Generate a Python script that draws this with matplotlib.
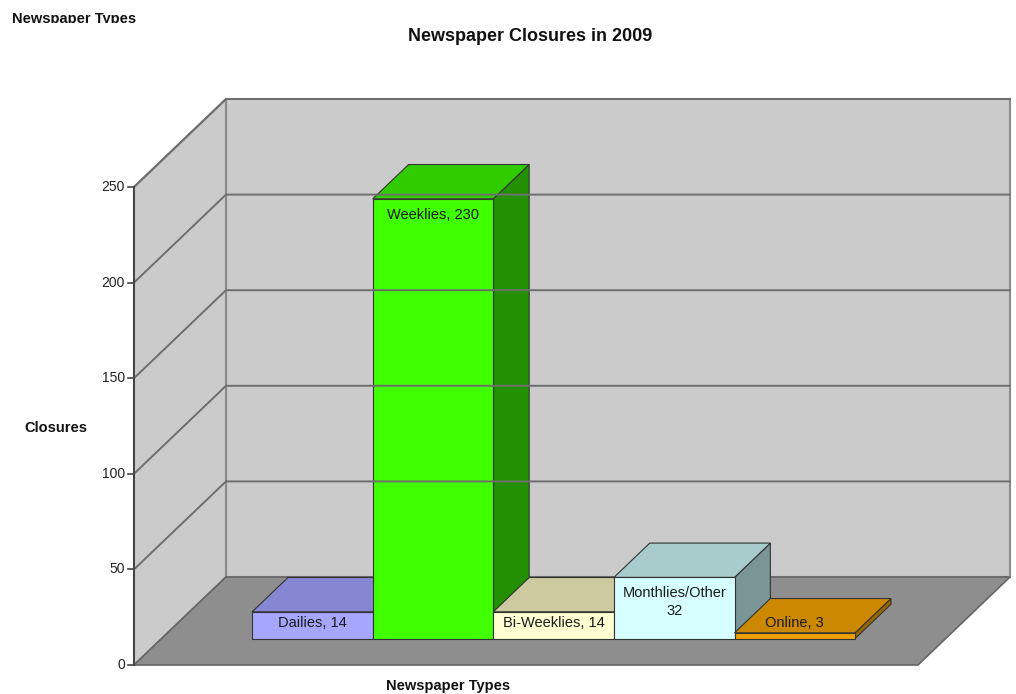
import matplotlib.pyplot as plt
from matplotlib.patches import Polygon
from matplotlib.transforms import Bbox

plt.rcParams['font.family'] = ['Liberation Sans', 'DejaVu Sans']

categories = ['Dailies', 'Weeklies', 'Bi-Weeklies', 'Monthlies/Other', 'Online']
closures = [14, 230, 14, 32, 3]
bar_labels = ['Dailies, 14', 'Weeklies, 230', 'Bi-Weeklies, 14', 'Monthlies/Other\n32', 'Online, 3']
y_ticks = [0, 50, 100, 150, 200, 250]

front_col = ['#a6a6ff', '#40ff00', '#ffffd2', '#d6ffff', '#f0a000']
top_col = ['#8686d2', '#30cc00', '#cdcaa0', '#a8cbcb', '#cc8800']
side_col = ['#6a6aa8', '#229000', '#a4a27e', '#7a9595', '#9a6600']

# fake 3d box, in pixel units
X0, Y0 = 134, 665          # front-left corner of the floor
FLOOR_W = 784
DX, DY = 92, 88            # depth offset of the back wall
PX_PER_UNIT = 478 / 250
YMAX = 250
Z_FRONT, Z_BACK = 0.30, 0.69
BAR_W = 120.6


def proj(x, v, z):
    return (X0 + x + z * DX, Y0 - v * PX_PER_UNIT - z * DY)


fig = plt.figure(figsize=(10.16, 6.94), dpi=100)
ax = fig.add_axes([0, 0, 1, 1])
ax.set_xlim(0, 1016)
ax.set_ylim(694, 0)
ax.axis('off')

wall = '#cbcbcb'
edge = '#8a8a8a'

# walls and floor
back = [proj(0, 0, 1), proj(FLOOR_W, 0, 1), proj(FLOOR_W, YMAX, 1), proj(0, YMAX, 1)]
left = [proj(0, 0, 0), proj(0, 0, 1), proj(0, YMAX, 1), proj(0, YMAX, 0)]
floor = [proj(0, 0, 0), proj(FLOOR_W, 0, 0), proj(FLOOR_W, 0, 1), proj(0, 0, 1)]
ax.add_patch(Polygon(back, closed=True, fc=wall, ec=edge, lw=1.5))
ax.add_patch(Polygon(left, closed=True, fc=wall, ec=edge, lw=1.5))
ax.add_patch(Polygon(floor, closed=True, fc='#8e8e8e', ec='#666666', lw=1.2))

# gridlines on the walls
for t in y_ticks[1:]:
    a, b, c = proj(0, t, 0), proj(0, t, 1), proj(FLOOR_W, t, 1)
    ax.plot([a[0], b[0], c[0]], [a[1], b[1], c[1]], color='#6e6e6e', lw=1.4)

# value axis
a, b = proj(0, 0, 0), proj(0, YMAX, 0)
ax.plot([a[0], b[0]], [a[1], b[1]], color='#444444', lw=1.4)
for t in y_ticks:
    x, y = proj(0, t, 0)
    ax.plot([x - 6, x], [y, y], color='#444444', lw=1.2)
    ax.text(x - 9, y, str(t), ha='right', va='center', fontsize=10, color='#222222')

# bars, drawn left to right so each front face covers the previous side
start = (FLOOR_W - BAR_W * len(closures)) / 2
for i, v in enumerate(closures):
    x1 = start + i * BAR_W
    x2 = x1 + BAR_W
    side = [proj(x2, 0, Z_FRONT), proj(x2, 0, Z_BACK), proj(x2, v, Z_BACK), proj(x2, v, Z_FRONT)]
    top = [proj(x1, v, Z_FRONT), proj(x2, v, Z_FRONT), proj(x2, v, Z_BACK), proj(x1, v, Z_BACK)]
    front = [proj(x1, 0, Z_FRONT), proj(x2, 0, Z_FRONT), proj(x2, v, Z_FRONT), proj(x1, v, Z_FRONT)]
    ax.add_patch(Polygon(side, closed=True, fc=side_col[i], ec='#333333', lw=0.8))
    ax.add_patch(Polygon(top, closed=True, fc=top_col[i], ec='#333333', lw=0.8))
    ax.add_patch(Polygon(front, closed=True, fc=front_col[i], ec='#333333', lw=0.8))

    cx, y_top = proj((x1 + x2) / 2, v, Z_FRONT)
    y_base = proj(x1, 0, Z_FRONT)[1]
    ax.text(cx, min(y_top + 9, y_base - 23), bar_labels[i], ha='center', va='top',
            fontsize=10.5, color='#1a1a1a', linespacing=1.3)

# titles
ax.text(530, 36, 'Newspaper Closures in 2009', ha='center', va='center',
        fontsize=13, fontweight='bold', color='#111111')
ax.text(56, 428, 'Closures', ha='center', va='center', fontsize=10.5,
        fontweight='bold', color='#111111')
ax.text(448, 686, 'Newspaper Types', ha='center', va='center', fontsize=10.5,
        fontweight='bold', color='#111111')

# header text, cut off along its baseline
hdr = ax.text(12, 23, 'Newspaper Types', ha='left', va='baseline', fontsize=10.5,
              fontweight='bold', color='#111111')
fig.canvas.draw()
hdr.set_clip_box(Bbox.from_extents(0, 694 - 22.5, 300, 694))
hdr.set_clip_on(True)

fig.savefig('out.png', dpi=100)
